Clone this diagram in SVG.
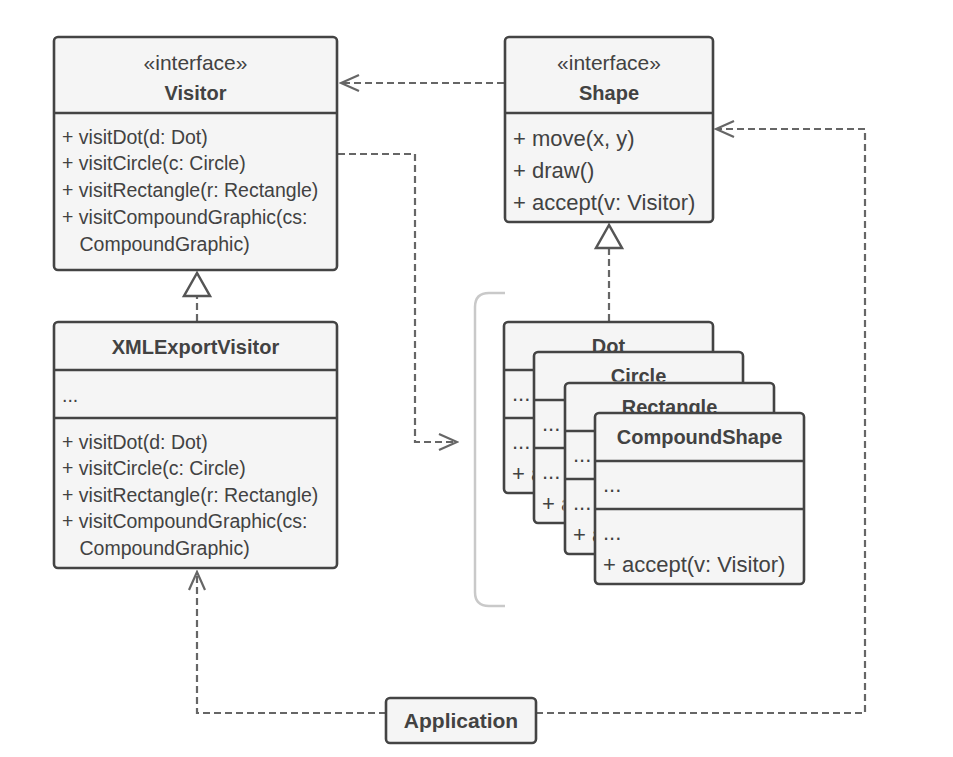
<svg xmlns="http://www.w3.org/2000/svg" width="953" height="757" viewBox="0 0 953 757">
<style>
  .box { fill: #f5f5f5; stroke: #444; stroke-width: 2.6; }
  .div { stroke: #444; stroke-width: 2.6; fill: none; }
  .t { font-family: "Liberation Sans", Arial, sans-serif; fill: #424242; }
  .m { font-size: 19.5px; }
  .m2 { font-size: 22px; }
  .st { font-size: 21px; text-anchor: middle; }
  .b { font-size: 20px; font-weight: bold; text-anchor: middle; }
  .con { fill: none; stroke: #666; stroke-width: 2.2; stroke-dasharray: 7 4; }
  .br { fill: none; stroke: #c9c9c9; stroke-width: 2.5; }
</style>
<defs>
  <marker id="open" markerUnits="userSpaceOnUse" viewBox="-20 -11 22 22" markerWidth="22" markerHeight="22" refX="0" refY="0" orient="auto">
    <path d="M-18,-8 L0,0 L-18,8" fill="none" stroke="#666" stroke-width="2.2" stroke-dasharray="none"/>
  </marker>
  <marker id="tri" markerUnits="userSpaceOnUse" viewBox="-26 -16 28 32" markerWidth="28" markerHeight="32" refX="0" refY="0" orient="auto">
    <path d="M0,0 L-23,-13 L-23,13 Z" fill="#fff" stroke="#555" stroke-width="2.5" stroke-dasharray="none"/>
  </marker>
  <clipPath id="occl" clipPathUnits="userSpaceOnUse">
    <path d="M0,0 H209 V29.5 H29.5 V171 H0 Z"/>
  </clipPath>
</defs>

<rect width="953" height="757" fill="#fff"/>

<path class="br" d="M505,293 H489 Q475,293 475,307 V592 Q475,606 489,606 H505"/>

<g id="connectors">
  <path class="con" d="M504,83 H341" marker-end="url(#open)"/>
  <path class="con" d="M338,154 H415 V442 H457" marker-end="url(#open)"/>
  <path class="con" d="M197,321 V273" marker-end="url(#tri)"/>
  <path class="con" d="M609,321 V225" marker-end="url(#tri)"/>
  <path class="con" d="M386,713 H197 V572" marker-end="url(#open)"/>
  <path class="con" d="M536,713 H865 V129 H716" marker-end="url(#open)"/>
</g>

<g id="visitor">
  <rect class="box" x="54" y="37" width="283" height="233" rx="4"/>
  <line class="div" x1="54" y1="113" x2="337" y2="113"/>
  <text class="t st" x="195.5" y="70">«interface»</text>
  <text class="t b" x="195.5" y="100">Visitor</text>
  <text class="t m" x="62" y="143.5">+ visitDot(d: Dot)</text>
  <text class="t m" x="62" y="170.3">+ visitCircle(c: Circle)</text>
  <text class="t m" x="62" y="197.1">+ visitRectangle(r: Rectangle)</text>
  <text class="t m" x="62" y="223.9">+ visitCompoundGraphic(cs:</text>
  <text class="t m" x="79.5" y="250.7">CompoundGraphic)</text>
</g>

<g id="shape">
  <rect class="box" x="505" y="37" width="208" height="185" rx="4"/>
  <line class="div" x1="505" y1="113" x2="713" y2="113"/>
  <text class="t st" x="609" y="70">«interface»</text>
  <text class="t b" x="609" y="100">Shape</text>
  <text class="t m2" x="513" y="146">+ move(x, y)</text>
  <text class="t m2" x="513" y="178">+ draw()</text>
  <text class="t m2" x="513" y="210">+ accept(v: Visitor)</text>
</g>

<g id="xmlexportvisitor">
  <rect class="box" x="54" y="322" width="283" height="246" rx="4"/>
  <line class="div" x1="54" y1="370" x2="337" y2="370"/>
  <line class="div" x1="54" y1="418" x2="337" y2="418"/>
  <text class="t b" x="195.5" y="354">XMLExportVisitor</text>
  <text class="t m" x="62" y="402">...</text>
  <text class="t m" x="62" y="448.5">+ visitDot(d: Dot)</text>
  <text class="t m" x="62" y="475.1">+ visitCircle(c: Circle)</text>
  <text class="t m" x="62" y="501.7">+ visitRectangle(r: Rectangle)</text>
  <text class="t m" x="62" y="528.3">+ visitCompoundGraphic(cs:</text>
  <text class="t m" x="79.5" y="554.9">CompoundGraphic)</text>
</g>

<g id="dot" transform="translate(504,322)">
  <rect class="box" x="0" y="0" width="209" height="171" rx="4"/>
  <line class="div" x1="0" y1="48" x2="209" y2="48"/>
  <line class="div" x1="0" y1="96" x2="209" y2="96"/>
  <g clip-path="url(#occl)">
    <text class="t b" x="104.5" y="31">Dot</text>
    <text class="t m2" x="8" y="79">...</text>
    <text class="t m2" x="8" y="127">...</text>
    <text class="t m2" x="8" y="159">+ accept(v: Visitor)</text>
  </g>
</g>

<g id="circle" transform="translate(534,352)">
  <rect class="box" x="0" y="0" width="209" height="171" rx="4"/>
  <line class="div" x1="0" y1="48" x2="209" y2="48"/>
  <line class="div" x1="0" y1="96" x2="209" y2="96"/>
  <g clip-path="url(#occl)">
    <text class="t b" x="104.5" y="31">Circle</text>
    <text class="t m2" x="8" y="79">...</text>
    <text class="t m2" x="8" y="127">...</text>
    <text class="t m2" x="8" y="159">+ accept(v: Visitor)</text>
  </g>
</g>

<g id="rectangle" transform="translate(565,383)">
  <rect class="box" x="0" y="0" width="209" height="171" rx="4"/>
  <line class="div" x1="0" y1="48" x2="209" y2="48"/>
  <line class="div" x1="0" y1="96" x2="209" y2="96"/>
  <g clip-path="url(#occl)">
    <text class="t b" x="104.5" y="31">Rectangle</text>
    <text class="t m2" x="8" y="79">...</text>
    <text class="t m2" x="8" y="127">...</text>
    <text class="t m2" x="8" y="159">+ accept(v: Visitor)</text>
  </g>
</g>

<g id="compoundshape" transform="translate(595,413)">
  <rect class="box" x="0" y="0" width="209" height="171" rx="4"/>
  <line class="div" x1="0" y1="48" x2="209" y2="48"/>
  <line class="div" x1="0" y1="96" x2="209" y2="96"/>
  <text class="t b" x="104.5" y="31">CompoundShape</text>
  <text class="t m2" x="8" y="79">...</text>
  <text class="t m2" x="8" y="127">...</text>
  <text class="t m2" x="8" y="159">+ accept(v: Visitor)</text>
</g>

<g id="application">
  <rect class="box" x="386" y="698" width="150" height="45" rx="4"/>
  <text class="t b" x="461" y="728" style="font-size:21px">Application</text>
</g>
</svg>
